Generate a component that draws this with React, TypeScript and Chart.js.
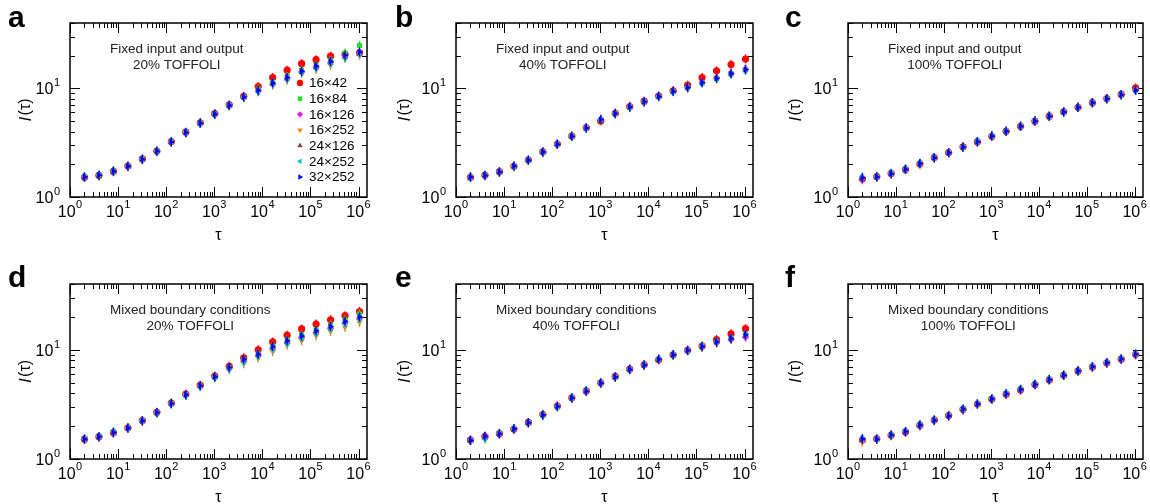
import React, { useEffect, useRef } from 'react';
import { Chart, registerables } from 'chart.js';
import { drawPoint } from 'chart.js/helpers';

Chart.register(...registerables);

const FONT = "'Liberation Sans', Arial, Helvetica, sans-serif";

// tau values (x) shared by every series
const TAU = [2, 4, 8, 16, 32, 64, 128, 256, 512, 1024, 2048, 4096, 8192, 16384, 32768, 65536, 131072, 262144, 524288, 1048576];

// series (system sizes)
const SIZES = ['16×42', '16×84', '16×126', '16×252', '24×126', '24×252', '32×252'];
const COLORS = ['#ff0000', '#22e022', '#e020e0', '#f08a10', '#8a4444', '#14c4c4', '#0000ff'];
const SHAPES = ['circle', 'rect', 'rectRot', 'triangle', 'triangle', 'triangle', 'triangle'];
const ROTATIONS = [0, 0, 0, 180, 0, -90, 90];

// axis ranges and tick labels
const X_MIN = 1;
const X_MAX = 1.5e6;
const Y_MIN = 1;
const Y_MAX = 40;
const X_DECADES = [1, 10, 100, 1000, 10000, 100000, 1000000];
const Y_TICK_VALUES = [1, 2, 3, 4, 5, 6, 7, 8, 9, 10, 20, 30, 40];

// Panel a: Fixed input and output, 20% TOFFOLI
const A_16x42 = [1.52, 1.58, 1.72, 1.93, 2.24, 2.65, 3.24, 3.95, 4.82, 5.85, 7.05, 8.45, 10.4, 12.6, 14.7, 16.9, 18.4, 19.8, 20.6, 21.2];
const A_16x84 = [1.53, 1.57, 1.74, 1.91, 2.22, 2.63, 3.21, 3.92, 4.78, 5.79, 6.97, 8.30, 9.8, 11.3, 12.9, 14.7, 16.3, 18.1, 21.2, 24.9];
const A_16x126 = [1.51, 1.58, 1.72, 1.91, 2.21, 2.62, 3.19, 3.88, 4.74, 5.74, 6.92, 8.25, 9.5, 11.0, 12.4, 14.2, 15.7, 17.4, 19.5, 21.0];
const A_16x252 = [1.52, 1.55, 1.71, 1.90, 2.20, 2.62, 3.20, 3.90, 4.75, 5.76, 6.90, 8.20, 9.3, 10.7, 11.9, 13.7, 14.9, 16.3, 18.8, 20.2];
const A_24x126 = [1.53, 1.58, 1.73, 1.92, 2.22, 2.64, 3.21, 3.92, 4.77, 5.78, 6.95, 8.28, 9.5, 11.0, 12.3, 14.1, 15.6, 17.2, 19.4, 21.0];
const A_24x252 = [1.54, 1.60, 1.71, 1.93, 2.23, 2.65, 3.23, 3.94, 4.78, 5.79, 6.96, 8.27, 9.3, 10.9, 12.2, 14.0, 15.4, 17.0, 19.2, 20.8];
const A_32x252 = [1.53, 1.59, 1.73, 1.92, 2.23, 2.64, 3.22, 3.93, 4.79, 5.80, 6.98, 8.33, 9.6, 11.2, 12.6, 14.4, 16.0, 17.7, 20.2, 21.6];

// Panel b: Fixed input and output, 40% TOFFOLI
const B_16x42 = [1.52, 1.59, 1.71, 1.92, 2.19, 2.61, 3.07, 3.63, 4.34, 5.02, 5.90, 6.80, 7.62, 8.50, 9.50, 10.7, 12.6, 14.5, 16.6, 18.6];
const B_16x84 = [1.54, 1.58, 1.69, 1.92, 2.17, 2.56, 3.05, 3.61, 4.31, 5.12, 5.85, 6.70, 7.50, 8.40, 9.35, 10.1, 11.2, 12.3, 13.6, 14.8];
const B_16x126 = [1.52, 1.57, 1.70, 1.91, 2.18, 2.58, 3.04, 3.60, 4.35, 5.20, 5.90, 6.85, 7.60, 8.50, 9.45, 10.2, 11.3, 12.5, 13.8, 15.0];
const B_16x252 = [1.53, 1.58, 1.71, 1.90, 2.17, 2.59, 3.05, 3.61, 4.30, 5.10, 5.84, 6.65, 7.48, 8.38, 9.32, 10.1, 11.4, 12.6, 13.9, 15.1];
const B_24x126 = [1.53, 1.58, 1.70, 1.92, 2.18, 2.60, 3.06, 3.62, 4.33, 5.14, 5.87, 6.72, 7.52, 8.42, 9.38, 10.2, 11.3, 12.4, 13.7, 14.9];
const B_24x252 = [1.51, 1.59, 1.72, 1.92, 2.19, 2.59, 3.07, 3.63, 4.31, 5.15, 5.85, 6.73, 7.54, 8.45, 9.38, 10.3, 11.2, 12.3, 13.6, 14.8];
const B_32x252 = [1.53, 1.58, 1.70, 1.93, 2.18, 2.60, 3.06, 3.62, 4.32, 5.16, 5.86, 6.74, 7.55, 8.44, 9.40, 10.2, 11.3, 12.4, 13.7, 14.9];

// Panel c: Fixed input and output, 100% TOFFOLI
const C_16x42 = [1.47, 1.54, 1.65, 1.79, 2.02, 2.31, 2.57, 2.89, 3.22, 3.62, 4.02, 4.47, 4.99, 5.55, 6.08, 6.70, 7.40, 8.05, 8.80, 10.1];
const C_16x84 = [1.48, 1.53, 1.64, 1.80, 2.04, 2.29, 2.56, 2.87, 3.23, 3.64, 4.03, 4.49, 5.01, 5.53, 6.05, 6.68, 7.37, 8.02, 8.74, 9.65];
const C_16x126 = [1.44, 1.54, 1.63, 1.79, 2.02, 2.30, 2.55, 2.88, 3.22, 3.65, 4.04, 4.47, 5.00, 5.54, 6.07, 6.70, 7.38, 8.04, 8.76, 9.60];
const C_16x252 = [1.47, 1.53, 1.65, 1.80, 1.98, 2.29, 2.57, 2.89, 3.21, 3.62, 4.02, 4.46, 4.98, 5.52, 6.05, 6.68, 7.36, 8.01, 8.73, 9.55];
const C_24x126 = [1.48, 1.54, 1.64, 1.80, 2.03, 2.30, 2.56, 2.88, 3.23, 3.64, 4.03, 4.48, 5.00, 5.54, 6.06, 6.69, 7.38, 8.03, 8.75, 9.60];
const C_24x252 = [1.53, 1.55, 1.66, 1.81, 2.05, 2.31, 2.57, 2.89, 3.24, 3.65, 4.04, 4.49, 5.01, 5.55, 6.07, 6.70, 7.39, 8.04, 8.76, 9.58];
const C_32x252 = [1.50, 1.53, 1.64, 1.80, 2.03, 2.30, 2.56, 2.88, 3.23, 3.64, 4.03, 4.48, 5.00, 5.54, 6.06, 6.69, 7.38, 8.03, 8.75, 9.60];

// Panel d: Mixed boundary conditions, 20% TOFFOLI
const D_16x42 = [1.52, 1.60, 1.74, 1.93, 2.25, 2.68, 3.25, 3.92, 4.74, 5.74, 7.05, 8.45, 10.0, 11.8, 13.6, 15.5, 17.2, 18.8, 20.5, 22.4];
const D_16x84 = [1.53, 1.61, 1.74, 1.92, 2.24, 2.66, 3.22, 3.87, 4.68, 5.64, 6.85, 8.10, 9.2, 10.8, 12.3, 13.7, 15.2, 16.8, 18.8, 21.2];
const D_16x126 = [1.52, 1.59, 1.73, 1.91, 2.23, 2.65, 3.20, 3.85, 4.65, 5.60, 6.75, 7.90, 8.9, 10.3, 11.6, 13.0, 14.4, 15.8, 17.6, 19.5];
const D_16x252 = [1.51, 1.58, 1.72, 1.91, 2.22, 2.62, 3.18, 3.82, 4.60, 5.52, 6.55, 7.45, 8.4, 9.6, 11.0, 12.1, 13.4, 14.7, 16.0, 17.8];
const D_24x126 = [1.52, 1.60, 1.74, 1.92, 2.23, 2.65, 3.21, 3.86, 4.66, 5.62, 6.80, 7.95, 8.95, 10.4, 11.8, 13.1, 14.6, 16.0, 17.8, 19.6];
const D_24x252 = [1.53, 1.61, 1.79, 1.93, 2.24, 2.64, 3.19, 3.84, 4.63, 5.58, 6.70, 7.70, 8.7, 10.1, 11.4, 12.7, 14.1, 15.5, 17.2, 19.1];
const D_32x252 = [1.52, 1.60, 1.75, 1.92, 2.24, 2.67, 3.23, 3.88, 4.69, 5.66, 6.90, 8.20, 9.1, 10.7, 12.1, 13.4, 14.9, 16.3, 18.2, 20.0];

// Panel e: Mixed boundary conditions, 40% TOFFOLI
const E_16x42 = [1.49, 1.60, 1.71, 1.88, 2.16, 2.55, 3.05, 3.63, 4.20, 4.98, 5.70, 6.65, 7.28, 8.10, 9.00, 9.90, 10.8, 12.4, 14.0, 15.6];
const E_16x84 = [1.48, 1.60, 1.71, 1.90, 2.14, 2.50, 2.98, 3.61, 4.17, 4.95, 5.63, 6.58, 7.22, 8.15, 8.96, 9.82, 10.6, 11.7, 12.6, 13.6];
const E_16x126 = [1.50, 1.62, 1.69, 1.88, 2.15, 2.54, 3.05, 3.60, 4.16, 4.94, 5.68, 6.66, 7.24, 8.20, 9.02, 9.90, 10.6, 11.6, 12.4, 13.0];
const E_16x252 = [1.48, 1.55, 1.70, 1.86, 2.14, 2.58, 3.06, 3.60, 4.22, 4.98, 5.60, 6.55, 7.22, 8.12, 8.92, 9.80, 10.5, 11.5, 12.5, 13.5];
const E_24x126 = [1.48, 1.60, 1.70, 1.89, 2.15, 2.53, 3.03, 3.62, 4.18, 4.96, 5.64, 6.61, 7.25, 8.18, 8.98, 9.86, 10.7, 11.8, 12.7, 13.7];
const E_24x252 = [1.49, 1.52, 1.72, 1.89, 2.16, 2.54, 3.04, 3.63, 4.24, 4.97, 5.66, 6.68, 7.27, 8.20, 9.05, 9.88, 10.9, 11.9, 12.8, 13.9];
const E_32x252 = [1.48, 1.61, 1.70, 1.89, 2.15, 2.53, 3.03, 3.62, 4.18, 4.96, 5.64, 6.61, 7.25, 8.18, 8.98, 9.86, 10.7, 11.8, 12.7, 13.7];

// Panel f: Mixed boundary conditions, 100% TOFFOLI
const F_16x42 = [1.49, 1.53, 1.65, 1.77, 2.04, 2.27, 2.50, 2.85, 3.18, 3.54, 3.92, 4.30, 4.80, 5.30, 5.84, 6.40, 6.96, 7.60, 8.20, 9.05];
const F_16x84 = [1.50, 1.52, 1.66, 1.78, 2.06, 2.25, 2.49, 2.84, 3.19, 3.55, 3.96, 4.34, 4.83, 5.32, 5.86, 6.43, 7.00, 7.63, 8.25, 9.10];
const F_16x126 = [1.46, 1.53, 1.64, 1.77, 2.00, 2.26, 2.47, 2.83, 3.18, 3.53, 3.93, 4.28, 4.79, 5.28, 5.82, 6.38, 6.92, 7.55, 8.15, 9.00];
const F_16x252 = [1.43, 1.51, 1.62, 1.76, 2.02, 2.24, 2.52, 2.78, 3.17, 3.50, 3.90, 4.31, 4.78, 5.27, 5.83, 6.40, 6.95, 7.50, 8.20, 8.95];
const F_24x126 = [1.50, 1.52, 1.65, 1.78, 2.04, 2.26, 2.49, 2.85, 3.19, 3.55, 3.95, 4.33, 4.82, 5.33, 5.85, 6.42, 6.99, 7.62, 8.24, 9.10];
const F_24x252 = [1.55, 1.53, 1.67, 1.79, 2.06, 2.30, 2.51, 2.88, 3.21, 3.57, 3.97, 4.36, 4.85, 5.36, 5.88, 6.45, 7.02, 7.65, 8.27, 9.15];
const F_32x252 = [1.53, 1.52, 1.66, 1.78, 2.05, 2.26, 2.48, 2.86, 3.19, 3.55, 3.95, 4.33, 4.82, 5.33, 5.85, 6.42, 6.99, 7.62, 8.24, 9.12];

type PanelDef = {
  letter: string;
  canvas: { left: number; top: number; width: number; height: number };
  area: { l: number; r: number; t: number; b: number };
  lines: string[];
  series: number[][];
  legend: boolean;
  letterX: number;
  letterY: number;
  yTitleX: number;
};

const PANELS: PanelDef[] = [
  {
    letter: 'a', canvas: { left: 0, top: 0, width: 385, height: 250 }, area: { l: 70, r: 367, t: 23, b: 197 },
    lines: ['Fixed input and output', '20% TOFFOLI'],
    series: [A_16x42, A_16x84, A_16x126, A_16x252, A_24x126, A_24x252, A_32x252], legend: true, letterX: 8, letterY: 27, yTitleX: 26,
  },
  {
    letter: 'b', canvas: { left: 385, top: 0, width: 385, height: 250 }, area: { l: 456, r: 753, t: 23, b: 197 },
    lines: ['Fixed input and output', '40% TOFFOLI'],
    series: [B_16x42, B_16x84, B_16x126, B_16x252, B_24x126, B_24x252, B_32x252], legend: false, letterX: 10, letterY: 27, yTitleX: 20,
  },
  {
    letter: 'c', canvas: { left: 770, top: 0, width: 380, height: 250 }, area: { l: 848, r: 1143, t: 23, b: 197 },
    lines: ['Fixed input and output', '100% TOFFOLI'],
    series: [C_16x42, C_16x84, C_16x126, C_16x252, C_24x126, C_24x252, C_32x252], legend: false, letterX: 15, letterY: 27, yTitleX: 26,
  },
  {
    letter: 'd', canvas: { left: 0, top: 250, width: 385, height: 254 }, area: { l: 70, r: 367, t: 284, b: 459 },
    lines: ['Mixed boundary conditions', '20% TOFFOLI'],
    series: [D_16x42, D_16x84, D_16x126, D_16x252, D_24x126, D_24x252, D_32x252], legend: false, letterX: 8, letterY: 37, yTitleX: 26,
  },
  {
    letter: 'e', canvas: { left: 385, top: 250, width: 385, height: 254 }, area: { l: 456, r: 753, t: 284, b: 459 },
    lines: ['Mixed boundary conditions', '40% TOFFOLI'],
    series: [E_16x42, E_16x84, E_16x126, E_16x252, E_24x126, E_24x252, E_32x252], legend: false, letterX: 10, letterY: 37, yTitleX: 20,
  },
  {
    letter: 'f', canvas: { left: 770, top: 250, width: 380, height: 254 }, area: { l: 848, r: 1143, t: 284, b: 459 },
    lines: ['Mixed boundary conditions', '100% TOFFOLI'],
    series: [F_16x42, F_16x84, F_16x126, F_16x252, F_24x126, F_24x252, F_32x252], legend: false, letterX: 15, letterY: 37, yTitleX: 26,
  },
];

function isPow10(v: number) {
  const l = Math.log10(v);
  return Math.abs(l - Math.round(l)) < 1e-9;
}

function xTickValues() {
  const out: number[] = [];
  for (const d of X_DECADES) {
    for (let m = 1; m <= 9; m++) {
      const v = m * d;
      if (v <= X_MAX) out.push(v);
    }
  }
  return out;
}

const BASE_SIZE = 16;
const EXP_SIZE = 11;

function drawPowLabel(ctx: CanvasRenderingContext2D, exp: string, x0: number, baseY: number, expY: number) {
  ctx.font = `${BASE_SIZE}px ${FONT}`;
  const wb = ctx.measureText('10').width;
  ctx.fillText('10', x0, baseY);
  ctx.font = `${EXP_SIZE}px ${FONT}`;
  ctx.fillText(exp, x0 + wb + 0.5, expY);
}

function labelWidth(ctx: CanvasRenderingContext2D, exp: string) {
  ctx.font = `${BASE_SIZE}px ${FONT}`;
  const wb = ctx.measureText('10').width;
  ctx.font = `${EXP_SIZE}px ${FONT}`;
  const we = ctx.measureText(exp).width;
  return wb + 0.5 + we;
}

function Panel({ p }: { p: PanelDef }) {
  const ref = useRef<HTMLCanvasElement | null>(null);

  useEffect(() => {
    const canvas = ref.current;
    if (!canvas) return;
    const c = p.canvas;
    const yAxisWidth = p.area.l - c.left;
    const padRight = c.left + c.width - p.area.r;
    const padTop = p.area.t - c.top;
    const xAxisHeight = c.top + c.height - p.area.b;

    const deco = {
      id: 'deco',
      beforeDatasetsDraw(chart: any) {
        const { ctx, chartArea: a, scales } = chart;
        ctx.save();
        ctx.strokeStyle = '#000';
        ctx.lineWidth = 1;
        const xs = scales.x;
        const ys = scales.y;
        ctx.beginPath();
        for (const t of xs.ticks) {
          const px = xs.getPixelForValue(t.value);
          if (px < a.left - 0.5 || px > a.right + 0.5) continue;
          const len = isPow10(t.value) ? 10 : 5;
          const X = Math.round(px) + 0.5;
          ctx.moveTo(X, a.bottom);
          ctx.lineTo(X, a.bottom - len);
          ctx.moveTo(X, a.top);
          ctx.lineTo(X, a.top + len);
        }
        for (const t of ys.ticks) {
          const py = ys.getPixelForValue(t.value);
          if (py < a.top - 0.5 || py > a.bottom + 0.5) continue;
          const len = isPow10(t.value) ? 10 : 5;
          const Y = Math.round(py) + 0.5;
          ctx.moveTo(a.left, Y);
          ctx.lineTo(a.left + len, Y);
          ctx.moveTo(a.right, Y);
          ctx.lineTo(a.right - len, Y);
        }
        ctx.stroke();
        ctx.lineWidth = 1.5;
        ctx.strokeRect(a.left, a.top, a.right - a.left, a.bottom - a.top);

        // tick labels (powers of ten) through the scales
        ctx.fillStyle = '#000';
        ctx.textAlign = 'left';
        ctx.textBaseline = 'alphabetic';
        for (const t of xs.ticks) {
          if (!isPow10(t.value)) continue;
          const px = xs.getPixelForValue(t.value);
          const e = String(Math.round(Math.log10(t.value)));
          const w = labelWidth(ctx, e);
          drawPowLabel(ctx, e, px - w / 2, a.bottom + 19.5, a.bottom + 11);
        }
        for (const t of ys.ticks) {
          if (!isPow10(t.value)) continue;
          const py = ys.getPixelForValue(t.value);
          const e = String(Math.round(Math.log10(t.value)));
          const w = labelWidth(ctx, e);
          drawPowLabel(ctx, e, a.left - 10 - w, py + 5.8, py - 2.2);
        }
        ctx.restore();
      },
      afterDatasetDraw(chart: any, args: any) {
        const { ctx } = chart;
        const meta = args.meta;
        const color = COLORS[args.index];
        ctx.save();
        ctx.strokeStyle = color;
        ctx.lineWidth = 1.3;
        ctx.beginPath();
        for (const el of meta.data) {
          ctx.moveTo(el.x, el.y - 4.5);
          ctx.lineTo(el.x, el.y + 4.5);
        }
        ctx.stroke();
        ctx.restore();
      },
      afterDraw(chart: any) {
        const { ctx, chartArea: a } = chart;
        ctx.save();
        // panel letter
        ctx.fillStyle = '#000';
        ctx.font = `bold 30px ${FONT}`;
        ctx.textAlign = 'left';
        ctx.textBaseline = 'alphabetic';
        ctx.fillText(p.letter, p.letterX, p.letterY);

        // annotation
        ctx.font = `13.5px ${FONT}`;
        ctx.fillStyle = '#222';
        ctx.textBaseline = 'middle';
        const w1 = ctx.measureText(p.lines[0]).width;
        const lx = a.left + 40;
        ctx.textAlign = 'left';
        ctx.fillText(p.lines[0], lx, a.top + 26.5);
        ctx.textAlign = 'center';
        ctx.fillText(p.lines[1], lx + w1 / 2, a.top + 42);

        // x title
        ctx.fillStyle = '#000';
        ctx.font = `16px ${FONT}`;
        ctx.textAlign = 'center';
        ctx.fillText('τ', (a.left + a.right) / 2, a.bottom + 39);

        // y title
        ctx.save();
        ctx.translate(p.yTitleX, (a.top + a.bottom) / 2);
        ctx.rotate(-Math.PI / 2);
        ctx.font = `italic 17px ${FONT}`;
        const wi = ctx.measureText('I').width;
        ctx.font = `16px ${FONT}`;
        const wt = ctx.measureText('(τ)').width;
        const x0 = -(wi + wt + 1.5) / 2;
        ctx.textAlign = 'left';
        ctx.textBaseline = 'middle';
        ctx.font = `italic 17px ${FONT}`;
        ctx.fillText('I', x0, 0);
        ctx.font = `16px ${FONT}`;
        ctx.fillText('(τ)', x0 + wi + 1.5, 0);
        ctx.restore();

        // legend
        if (p.legend) {
          ctx.font = `13.5px ${FONT}`;
          ctx.textAlign = 'left';
          ctx.textBaseline = 'middle';
          SIZES.forEach((label, i) => {
            const my = 83 + i * 15.67;
            const mx = 300;
            ctx.fillStyle = COLORS[i];
            ctx.strokeStyle = COLORS[i];
            drawPoint(ctx, { pointStyle: SHAPES[i], rotation: ROTATIONS[i], radius: 3.2, borderWidth: 0 } as any, mx, my);
            ctx.fillStyle = '#000';
            ctx.fillText(label, 309, my + 0.5);
          });
        }
        ctx.restore();
      },
    };

    const datasets = SIZES.map((label, i) => ({
      label,
      data: TAU.map((t, j) => ({ x: t, y: p.series[i][j] })),
      pointStyle: SHAPES[i],
      pointRotation: ROTATIONS[i],
      pointRadius: 3.6,
      pointBackgroundColor: COLORS[i],
      pointBorderColor: COLORS[i],
      pointBorderWidth: 0,
      backgroundColor: COLORS[i],
      borderColor: COLORS[i],
      showLine: false,
      order: SIZES.length - 1 - i,
    }));

    const chart = new Chart(canvas, {
      type: 'scatter',
      data: { datasets } as any,
      options: {
        animation: false,
        responsive: false,
        maintainAspectRatio: false,
        layout: { padding: { left: 0, right: padRight, top: padTop, bottom: 0 } },
        plugins: {
          legend: { display: false },
          tooltip: { enabled: false },
        },
        events: [],
        scales: {
          x: {
            type: 'logarithmic',
            min: X_MIN,
            max: X_MAX,
            grid: { display: false, drawTicks: false },
            border: { display: false },
            afterBuildTicks: (s: any) => {
              s.ticks = xTickValues().map((v) => ({ value: v }));
            },
            afterFit: (s: any) => {
              s.height = xAxisHeight;
            },
            ticks: { display: false, autoSkip: false },
          },
          y: {
            type: 'logarithmic',
            min: Y_MIN,
            max: Y_MAX,
            grid: { display: false, drawTicks: false },
            border: { display: false },
            afterBuildTicks: (s: any) => {
              s.ticks = Y_TICK_VALUES.map((v) => ({ value: v }));
            },
            afterFit: (s: any) => {
              s.width = yAxisWidth;
            },
            ticks: { display: false, autoSkip: false },
          },
        },
      } as any,
      plugins: [deco as any],
    });

    return () => chart.destroy();
  }, [p]);

  return (
    <canvas
      ref={ref}
      width={p.canvas.width}
      height={p.canvas.height}
      style={{
        position: 'absolute',
        left: p.canvas.left,
        top: p.canvas.top,
        width: p.canvas.width,
        height: p.canvas.height,
      }}
    />
  );
}

export default function App() {
  return (
    <div style={{ position: 'absolute', left: 0, top: 0, width: 1150, height: 504, background: '#fff' }}>
      {PANELS.map((p) => (
        <Panel key={p.letter} p={p} />
      ))}
    </div>
  );
}
